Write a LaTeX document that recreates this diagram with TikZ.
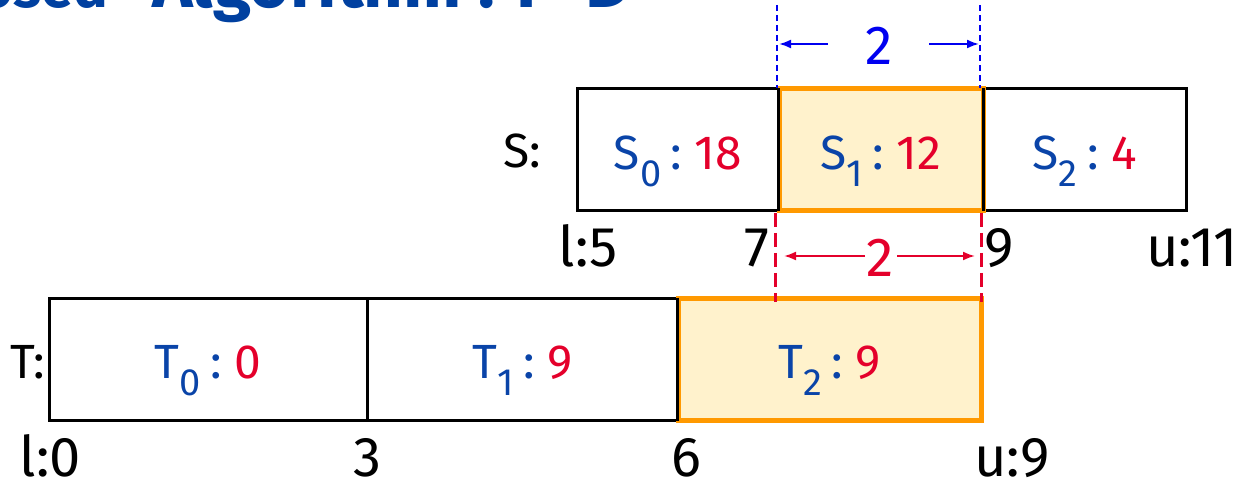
\documentclass[tikz,border=0pt]{standalone}
\usepackage{fontspec}
\setmainfont{Fira Sans}
\usetikzlibrary{arrows.meta}
\definecolor{tblue}{HTML}{0040A0}
\definecolor{cblue}{HTML}{0A44A8}
\definecolor{cred}{HTML}{E4002B}
\definecolor{dimblue}{HTML}{0000F0}
\definecolor{hlorange}{HTML}{FF9900}
\definecolor{hlfill}{HTML}{FFF2CC}
\newcommand{\myfs}[1]{\fontsize{#1}{#1}\selectfont}
\newcommand{\cellsub}[1]{\raisebox{-0.36em}{\myfs{38}#1}}
\newcommand{\celltxt}[3]{{\color{cblue}#1\cellsub{#2}\hspace{0.2em}:}\hspace{0.26em}{\color{cred}#3}}
\tikzset{
  cell/.style={draw=black, line width=3pt, minimum height=122pt, inner sep=0pt,
    font=\myfs{48}, text height=39pt, text depth=0pt, anchor=center},
  hlcell/.style={cell, draw=hlorange, fill=hlfill, line width=5pt},
  divider/.style={draw=black, line width=3pt},
  lab/.style={font=\myfs{48}, inner sep=0pt, anchor=base},
  axlab/.style={font=\myfs{56}, inner sep=0pt, anchor=base},
  dimnum/.style={font=\myfs{55}, inner sep=0pt, anchor=center},
  bluedash/.style={draw=dimblue, line width=2pt, dash pattern=on 6pt off 4pt},
  reddash/.style={draw=cred, line width=3pt, dash pattern=on 14pt off 6pt},
  bluearr/.style={draw=dimblue, line width=2pt, -{Latex[length=12pt,width=9pt]}},
  redarr/.style={draw=cred, line width=2pt, -{Latex[length=12pt,width=9pt]}}
}
\begin{document}
\begin{tikzpicture}[x=1pt,y=-1pt]
\useasboundingbox (0,0) rectangle (1239,486);
\clip (0,0) rectangle (1239,486);
% title (cut off at top)
\node[anchor=base west, font=\bfseries\myfs{58}, text=tblue, inner sep=0pt] (title) at (152,8)
  {\llap{Proposed\hspace{44pt}}\resizebox{478pt}{!}{Algorithm : P-D}};
% S row
\node[lab] (slab) at (522,168) {S:};
\node[cell, minimum width=202pt] (s0) at (678,150) {\celltxt{S}{0}{18}};
\node[cell, minimum width=203pt] (s2) at (1084.5,150) {\celltxt{S}{2}{4}};
\node[hlcell, minimum width=204pt] (s1) at (881,150) {\celltxt{S}{1}{12}};
\draw[divider] ([xshift=2pt,yshift=-2pt]s1.north west) -- ([xshift=2pt,yshift=2pt]s1.south west);
\draw[divider] ([xshift=-2pt,yshift=-2pt]s1.north east) -- ([xshift=-2pt,yshift=2pt]s1.south east);
% S axis labels
\node[axlab] (sl) at (588,266) {l:5};
\node[axlab] (s7) at (757,266) {7};
\node[axlab] (s9) at (999,266) {9};
\node[axlab] (su) at (1192,266) {u:11};
% T row
\node[lab] (tlab) at (28,378) {T:};
\node[cell, minimum width=318pt] (t0) at (208,359) {\celltxt{T}{0}{0}};
\node[cell, minimum width=311pt] (t1) at (522.5,359) {\celltxt{T}{1}{9}};
\node[hlcell, minimum width=303pt] (t2) at (829.5,359) {\celltxt{T}{2}{9}};
\draw[divider] ([xshift=2pt,yshift=-2pt]t2.north west) -- ([xshift=2pt,yshift=2pt]t2.south west);
% T axis labels
\node[axlab] (tl) at (50,476) {l:0};
\node[axlab] (t3) at (367,476) {3};
\node[axlab] (t6) at (686,476) {6};
\node[axlab] (tu) at (1012,476) {u:9};
% top dimension (blue)
\coordinate (bt1) at (777,5);
\coordinate (bb1) at (777,88);
\coordinate (bt2) at (980,5);
\coordinate (bb2) at (980,88);
\draw[bluedash] (bt1) -- (bb1);
\draw[bluedash] (bt2) -- (bb2);
\node[dimnum, text=dimblue] (dtop) at (879,46) {2};
\coordinate (ba1s) at (828,44);
\coordinate (ba1e) at (779,44);
\coordinate (ba2s) at (929,44);
\coordinate (ba2e) at (979,44);
\draw[bluearr] (ba1s) -- (ba1e);
\draw[bluearr] (ba2s) -- (ba2e);
% middle dimension (red)
\coordinate (rt1) at (775,213);
\coordinate (rb1) at (775,302);
\coordinate (rt2) at (981,213);
\coordinate (rb2) at (981,302);
\draw[reddash] (rt1) -- (rb1);
\draw[reddash] (rt2) -- (rb2);
\node[dimnum, text=cred] (dmid) at (880,258) {2};
\coordinate (ra1s) at (865,256);
\coordinate (ra1e) at (784,256);
\coordinate (ra2s) at (897,256);
\coordinate (ra2e) at (975,256);
\draw[redarr] (ra1s) -- (ra1e);
\draw[redarr] (ra2s) -- (ra2e);
\end{tikzpicture}
\end{document}
